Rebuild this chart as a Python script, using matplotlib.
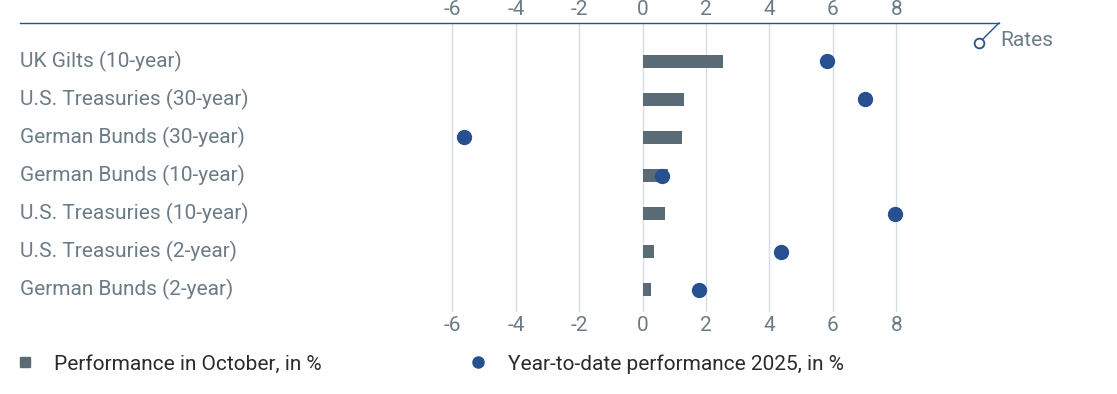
import matplotlib.pyplot as plt
from matplotlib.lines import Line2D

# ── Data ─────────────────────────────────────────────────────────────────────

categories = [
    "UK Gilts (10-year)",
    "U.S. Treasuries (30-year)",
    "German Bunds (30-year)",
    "German Bunds (10-year)",
    "U.S. Treasuries (10-year)",
    "U.S. Treasuries (2-year)",
    "German Bunds (2-year)",
]
october = [2.55, 1.3, 1.25, 0.8, 0.7, 0.35, 0.27]
ytd_2025 = [5.8, 7.0, -5.63, 0.6, 7.97, 4.37, 1.78]
ticks = [-6, -4, -2, 0, 2, 4, 6, 8]
tick_labels = ["-6", "-4", "-2", "0", "2", "4", "6", "8"]

BAR_COLOR = "#5b6b75"
DOT_COLOR = "#26508f"
TEXT_COLOR = "#6b7c87"
GRID_COLOR = "#d6dce4"
FS = 15

plt.rcParams.update({"font.family": "Roboto", "font.size": FS})

W, H = 1117, 394
fig = plt.figure(figsize=(W / 100, H / 100), dpi=100)
# axes from px x 20..999, y 23..312
ax = fig.add_axes([20 / W, 1 - 312 / H, 979 / W, 289 / H])

ypos = list(range(len(categories)))
ax.barh(ypos, october, height=0.34, color=BAR_COLOR, zorder=2)
ax.plot(ytd_2025, ypos, "o", ms=10, color=DOT_COLOR, zorder=3)

ax.set_xlim(-19.64, 11.24)
ax.set_ylim(6.58, -1.0)

ax.set_xticks(ticks)
ax.set_xticklabels(tick_labels)
ax.tick_params(axis="x", which="both", length=0, colors=TEXT_COLOR, labelsize=FS,
               top=True, labeltop=True, bottom=False, labelbottom=True, pad=3)
ax.set_yticks([])
for t in ticks:
    ax.axvline(t, color=GRID_COLOR, lw=1, zorder=1)

for s in ["left", "right", "bottom"]:
    ax.spines[s].set_visible(False)
ax.spines["top"].set_color(DOT_COLOR)
ax.spines["top"].set_linewidth(1)

for y, name in zip(ypos, categories):
    ax.text(0, y, name, transform=ax.get_yaxis_transform(), ha="left", va="center",
            color=TEXT_COLOR, fontsize=FS)

# Rates marker: diagonal from the end of the top line
fig.add_artist(Line2D([999 / W, 979 / W], [1 - 23 / H, 1 - 43 / H], color=DOT_COLOR, lw=1))
fig.add_artist(Line2D([979 / W], [1 - 43 / H], marker="o", ms=7, mfc="white", mec=DOT_COLOR, mew=1.3))
fig.text(1000 / W, 1 - 41 / H, "Rates", color=TEXT_COLOR, fontsize=FS, va="center", ha="left")

# Legend, two separate entries
leg_style = dict(loc="center left", frameon=False, handletextpad=1.0, handlelength=0.8,
                 borderpad=0, borderaxespad=0, fontsize=FS, labelcolor="#2b2b2b")
leg1 = fig.legend([Line2D([], [], marker="s", ls="", ms=7, color=BAR_COLOR)],
                  ["Performance in October, in %"], bbox_to_anchor=(17 / W, 1 - 364 / H), **leg_style)
fig.legend([Line2D([], [], marker="o", ls="", ms=8, color=DOT_COLOR)],
           ["Year-to-date performance 2025, in %"], bbox_to_anchor=(470 / W, 1 - 364 / H), **leg_style)

fig.savefig("out.png", dpi=100)
